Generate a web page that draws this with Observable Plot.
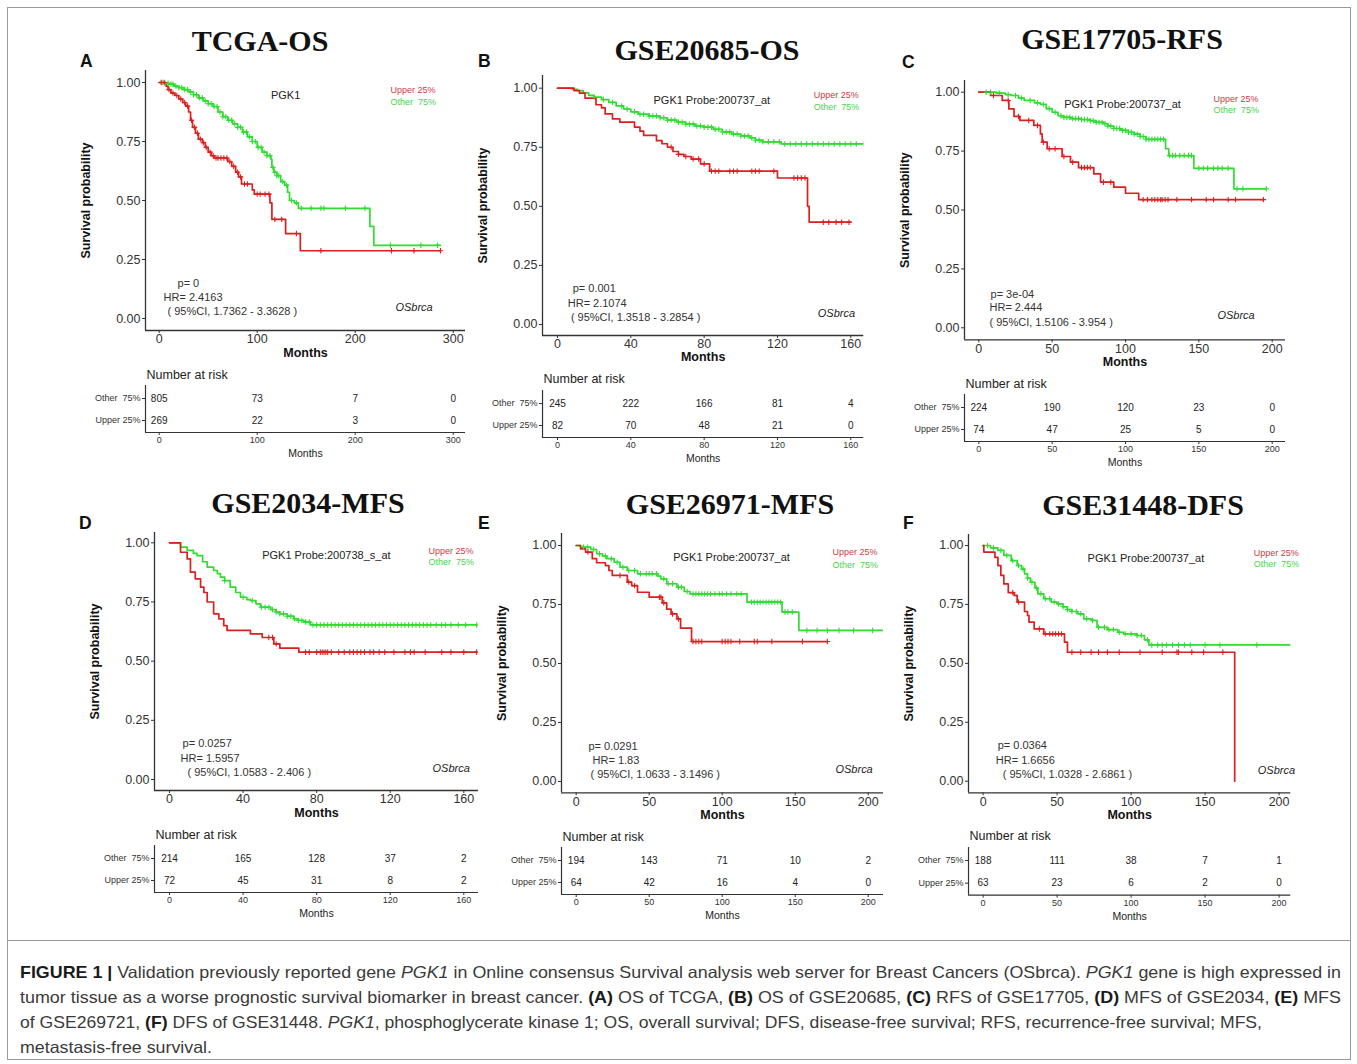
<!DOCTYPE html>
<html><head><meta charset="utf-8">
<script src="https://cdn.jsdelivr.net/npm/d3@7"></script>
<script src="https://cdn.jsdelivr.net/npm/@observablehq/plot@0.6"></script>
<style>
body{margin:0;background:#fff;}
#fig{position:relative;width:1357px;height:1064px;background:#fff;overflow:hidden;}
</style></head><body><div id="fig"></div>
<script>
// ---------------- DATA ----------------
const groups = ["Other  75%", "Upper 25%"];
const panelLetters = ["A","B","C","D","E","F"];
const panelTitles = ["TCGA-OS","GSE20685-OS","GSE17705-RFS","GSE2034-MFS","GSE26971-MFS","GSE31448-DFS"];
const probeLabels = ["PGK1","PGK1 Probe:200737_at","PGK1 Probe:200737_at","PGK1 Probe:200738_s_at","PGK1 Probe:200737_at","PGK1 Probe:200737_at"];
const pValues = ["p= 0","p= 0.001","p= 3e-04","p= 0.0257","p= 0.0291","p= 0.0364"];
const hrValues = ["HR= 2.4163","HR= 2.1074","HR= 2.444","HR= 1.5957","HR= 1.83","HR= 1.6656"];
const ciValues = ["( 95%CI, 1.7362 - 3.3628 )","( 95%CI, 1.3518 - 3.2854 )","( 95%CI, 1.5106 - 3.954 )","( 95%CI, 1.0583 - 2.406 )","( 95%CI, 1.0633 - 3.1496 )","( 95%CI, 1.0328 - 2.6861 )"];
const sourceLabel = "OSbrca";
const yTicks = [0, 0.25, 0.5, 0.75, 1];
const xTicks = [[0,100,200,300],[0,40,80,120,160],[0,50,100,150,200],[0,40,80,120,160],[0,50,100,150,200],[0,50,100,150,200]];

// Number at risk (rows: Other 75%, Upper 25%) at the x ticks
const riskOther = [[805,73,7,0],[245,222,166,81,4],[224,190,120,23,0],[214,165,128,37,2],[194,143,71,10,2],[188,111,38,7,1]];
const riskUpper = [[269,22,3,0],[82,70,48,21,0],[74,47,25,5,0],[72,45,31,8,2],[64,42,16,4,0],[63,23,6,2,0]];

// Kaplan-Meier steps [month, survival] (Other 75% = green, Upper 25% = red)
const otherStepsA = [[0,1],[5,0.997],[10,0.993],[15,0.985],[20,0.978],[25,0.97],[30,0.96],[35,0.948],[40,0.935],[45,0.922],[50,0.91],[55,0.898],[60,0.875],[65,0.855],[70,0.84],[75,0.825],[80,0.81],[85,0.79],[90,0.77],[95,0.75],[100,0.725],[105,0.705],[110,0.69],[114,0.675],[115,0.64],[117,0.62],[120,0.605],[124,0.58],[128,0.565],[131,0.535],[133,0.5],[138,0.49],[142,0.467],[215,0.39],[219,0.31],[287,0.31]];
const upperStepsA = [[0,1],[7,0.985],[9,0.97],[12,0.955],[16,0.945],[20,0.93],[24,0.915],[27,0.9],[30,0.875],[32,0.84],[34,0.81],[37,0.785],[40,0.76],[44,0.745],[47,0.725],[50,0.705],[53,0.69],[56,0.68],[70,0.665],[74,0.645],[78,0.62],[81,0.6],[84,0.57],[95,0.545],[97,0.527],[113,0.49],[115,0.42],[129,0.36],[144,0.287],[287,0.287]];
const otherCensorA = [3,6,9,12,14,17,20,23,26,29,32,35,38,41,44,47,50,53,56,59,62,65,68,71,74,77,80,83,86,89,92,95,98,101,104,107,110,113,116,118,120,122,126,130,135,140,145,155,165,168,190,210,236,267,284];
const upperCensorA = [2,5,10,14,18,22,26,29,33,36,39,42,45,48,52,55,58,60,63,66,69,72,76,80,83,87,90,100,103,108,112,118,125,140,165,237,260,287];

const otherStepsB = [[0,1],[8,0.995],[11,0.99],[14,0.98],[17,0.97],[20,0.962],[24,0.952],[28,0.94],[32,0.925],[36,0.912],[40,0.9],[44,0.89],[50,0.882],[56,0.875],[60,0.865],[65,0.856],[70,0.848],[75,0.84],[80,0.835],[85,0.826],[90,0.815],[95,0.806],[100,0.798],[105,0.79],[108,0.78],[112,0.773],[122,0.764],[167,0.764]];
const upperStepsB = [[0,1],[9,0.99],[12,0.979],[15,0.958],[21,0.93],[24,0.917],[26,0.891],[30,0.87],[34,0.856],[42,0.835],[45,0.818],[47,0.8],[54,0.778],[57,0.765],[60,0.75],[63,0.732],[66,0.72],[69,0.711],[73,0.7],[78,0.68],[83,0.649],[120,0.62],[136.4,0.5],[137.3,0.433],[160,0.433]];
const otherCensorB = [20,25,30,35,38,42,45,47,50,52,54,56,58,60,62,64,66,68,70,72,74,76,78,80,82,84,86,88,90,92,94,96,98,100,102,104,106,108,110,112,115,118,121,124,127,130,133,136,139,142,145,148,151,154,157,160,163,167];
const upperCensorB = [62,66,70,74,77,80,84,86,88,94,96,98,106,108,110,118,129,131,133,135,145,148,152,155,159];

const otherStepsC = [[0,1],[12,0.996],[18,0.99],[22,0.986],[27,0.975],[31,0.965],[38,0.955],[42,0.948],[46,0.93],[50,0.915],[54,0.9],[58,0.893],[63,0.888],[70,0.884],[76,0.879],[80,0.872],[85,0.866],[88,0.856],[92,0.846],[97,0.838],[102,0.83],[106,0.822],[110,0.812],[114,0.8],[127.3,0.76],[129.5,0.731],[146.6,0.677],[173.9,0.59],[196,0.59]];
const upperStepsC = [[0,1],[8,0.986],[16,0.965],[20.5,0.929],[24,0.897],[28,0.88],[37.5,0.859],[42,0.823],[43.2,0.788],[46.6,0.76],[56.8,0.727],[62.5,0.703],[68,0.68],[78.4,0.653],[83,0.618],[92,0.597],[100,0.571],[109,0.544],[194,0.544]];
const otherCensorC = [5,8,14,20,25,29,35,40,44,48,52,56,58,60,62,64,66,68,70,72,74,76,78,80,82,84,86,88,90,92,94,96,98,100,102,104,106,108,110,112,114,116,118,120,122,124,126,130,132,134,137,140,143,145,150,153,156,160,163,166,170,176,180,196];
const upperCensorC = [10,20,27,34,40,44,48,52,58,64,70,72,74,76,85,90,112,115,118,120,122,124,125,127,129,135,145,155,160,170,175,194];

const otherStepsD = [[0,1],[6,0.982],[9.6,0.968],[13,0.955],[15,0.946],[18,0.92],[20.5,0.897],[24,0.883],[26,0.87],[27.7,0.855],[30,0.84],[33,0.813],[36,0.79],[38.6,0.77],[42,0.76],[44,0.756],[47,0.742],[49.5,0.728],[55,0.718],[58,0.708],[60,0.7],[64,0.69],[67.6,0.679],[70,0.672],[73,0.665],[76.6,0.653],[167,0.653]];
const upperStepsD = [[0,1],[6,0.96],[9.6,0.932],[11.4,0.876],[14,0.848],[16.9,0.813],[18.7,0.79],[20.5,0.75],[24,0.7],[26.8,0.679],[29.5,0.65],[31.3,0.63],[44,0.615],[50.4,0.6],[56.7,0.573],[60,0.555],[70.3,0.538],[167,0.538]];
const otherCensorD = [30,40,45,50,52,54,56,58,60,62,64,66,68,70,72,74,76,78,80,82,84,86,88,90,92,94,96,98,100,102,104,106,108,110,112,114,116,118,120,122,124,126,128,130,132,134,136,138,140,142,145,148,150,153,157,161,167];
const upperCensorD = [54,56,58,74,76,80,82,83,84,85,86,88,92,95,98,100,102,104,106,109,111,114,117,122,128,131,133,139,148,153,160,167];

const otherStepsE = [[0,1],[3,0.993],[10,0.983],[14,0.965],[18,0.955],[21,0.944],[26,0.929],[30,0.908],[35,0.894],[42,0.88],[56,0.87],[58,0.859],[62,0.838],[69,0.823],[74,0.805],[78,0.795],[117,0.76],[141,0.718],[152.5,0.64],[210,0.64]];
const upperStepsE = [[0,1],[3,0.986],[6.4,0.972],[11,0.944],[14,0.927],[20,0.915],[22.4,0.894],[24.7,0.873],[35,0.845],[38,0.83],[42,0.802],[50,0.781],[59,0.757],[62,0.73],[65,0.71],[69,0.689],[71.5,0.65],[79,0.593],[172,0.593]];
const otherCensorE = [5,8,12,16,20,24,28,32,36,40,44,48,50,52,55,60,63,66,70,72,76,80,82,84,86,88,90,92,95,98,100,103,106,110,113,120,122,124,126,128,130,132,134,136,138,140,143,145,148,158,165,172,180,190,203];
const upperCensorE = [8,30,36,40,57,58,60,66,70,80,82,84,86,100,102,104,106,112,122,124,134,155,172];

const otherStepsF = [[0,1],[5,0.99],[10,0.979],[14,0.958],[19,0.936],[23,0.915],[26,0.9],[28,0.88],[30,0.862],[32,0.844],[35,0.82],[37,0.795],[41,0.774],[46,0.76],[50,0.752],[54,0.74],[57,0.728],[60,0.72],[64,0.71],[68,0.689],[73,0.682],[77,0.653],[84,0.643],[91,0.632],[95,0.625],[104,0.618],[109,0.6],[112,0.578],[215,0.578]];
const upperStepsF = [[0,1],[0.5,0.972],[8,0.95],[10,0.915],[12,0.873],[14,0.837],[17,0.8],[21,0.788],[23,0.76],[28,0.72],[30,0.703],[31,0.675],[34.5,0.646],[41,0.625],[55,0.59],[57,0.547],[170,0],[170,0]];
const otherCensorF = [3,7,12,16,20,24,27,30,33,36,39,42,45,48,51,54,57,60,63,66,70,74,78,82,85,88,92,96,100,104,107,111,114,118,121,124,128,132,136,140,150,160,185];
const upperCensorF = [20,24,38,42,45,47,49,51,53,60,66,73,78,84,92,106,121,131,132,141,149,162];

const otherSteps = [otherStepsA, otherStepsB, otherStepsC, otherStepsD, otherStepsE, otherStepsF];
const upperSteps = [upperStepsA, upperStepsB, upperStepsC, upperStepsD, upperStepsE, upperStepsF];
const otherCensor = [otherCensorA, otherCensorB, otherCensorC, otherCensorD, otherCensorE, otherCensorF];
const upperCensor = [upperCensorA, upperCensorB, upperCensorC, upperCensorD, upperCensorE, upperCensorF];

// ---------------- LAYOUT (pixels / annotation anchors) ----------------
const layout = [
 {km:{x0:145,x1:465,y0:70,y1:330,xr:[0,158.7,300,452.7],yr:[1,82,0,318]}, tbl:{o:398,u:420}, title:[260,51], letter:[80,67],
  ann:{p:[18.7,0.148],hr:[4.4,0.089],ci:[8.5,0.03],probe:[129,0.945],leg:[236,0.966,0.919],os:[241,0.047]}},
 {km:{x0:541.7,x1:863,y0:75,y1:335,xr:[0,556.7,160,850],yr:[1,87.7,0,324]}, tbl:{o:403,u:425}, title:[707,60], letter:[478,67],
  ann:{p:[8.3,0.152],hr:[5.6,0.089],ci:[7.3,0.03],probe:[84.2,0.948],leg:[139.8,0.969,0.918],os:[142,0.047]}},
 {km:{x0:964,x1:1285,y0:80,y1:339.3,xr:[0,978.3,200,1271.7],yr:[1,91.7,0,327.3]}, tbl:{o:407,u:429}, title:[1122,49], letter:[902,68],
  ann:{p:[8,0.141],hr:[7.3,0.086],ci:[7.3,0.024],probe:[98,0.948],leg:[160,0.969,0.922],os:[162.7,0.052]}},
 {km:{x0:154,x1:478,y0:532,y1:790,xr:[0,169,160,463.3],yr:[1,542.3,0,779]}, tbl:{o:858,u:880}, title:[308,513], letter:[79,529], clip:true,
  ann:{p:[7.1,0.152],hr:[6.0,0.089],ci:[9.8,0.03],probe:[85.3,0.946],leg:[140.8,0.967,0.917],os:[143,0.046]}},
 {km:{x0:561,x1:883,y0:533,y1:792.3,xr:[0,575.7,200,867.7],yr:[1,545,0,781]}, tbl:{o:860,u:882}, title:[730,514], letter:[478,529],
  ann:{p:[8.4,0.148],hr:[11.2,0.089],ci:[9.8,0.03],probe:[106.4,0.949],leg:[175.5,0.97,0.919],os:[177.6,0.051]}},
 {km:{x0:967.7,x1:1290,y0:534,y1:792.3,xr:[0,982.3,200,1278.3],yr:[1,545,0,780.7]}, tbl:{o:860.3,u:883}, title:[1143,515], letter:[903,529], clip:true,
  ann:{p:[9.9,0.151],hr:[8.6,0.088],ci:[13.3,0.028],probe:[110,0.945],leg:[182.9,0.966,0.919],os:[185.6,0.047]}}
];

const SANS = "'Liberation Sans', Arial, Helvetica, sans-serif";
const RED = "#dc1f1f", GREEN = "#30dc30";
const RED_TXT = "#cc3a44", GREEN_TXT = "#47d447";
const INK = "#333";
const fig = document.getElementById("fig");

function linDomain(refs, p0, p1) {
  const [a, pa, b, pb] = refs; const k = (pb - pa) / (b - a);
  return [a + (p0 - pa) / k, a + (p1 - pa) / k];
}
function survAt(steps, t) { let s = 1; for (const [ti, si] of steps) if (ti <= t) s = si; return s; }
function place(svg, left, top) {
  svg.style.position = "absolute"; svg.style.left = left + "px"; svg.style.top = top + "px";
  svg.style.background = "transparent"; svg.style.maxWidth = "none";
  svg.style.overflow = "visible";
  fig.appendChild(svg);
}

// ---------------- decoration: frame, titles, letters, caption ----------------
const deco = d3.select(fig).append("svg").attr("width", 1357).attr("height", 1064)
  .style("position", "absolute").style("left", "0px").style("top", "0px");
deco.append("rect").attr("x", 7.5).attr("y", 7.5).attr("width", 1343).attr("height", 1052)
  .attr("fill", "none").attr("stroke", "#9a9a9a").attr("stroke-width", 1);
deco.append("line").attr("x1", 7.5).attr("x2", 1350.5).attr("y1", 940.5).attr("y2", 940.5)
  .attr("stroke", "#9a9a9a").attr("stroke-width", 1);
layout.forEach((L, i) => {
  deco.append("text").attr("x", L.title[0]).attr("y", L.title[1]).attr("text-anchor", "middle")
    .attr("font-family", "'Liberation Serif', 'Times New Roman', serif").attr("font-weight", "bold")
    .attr("font-size", 30).attr("fill", "#111").text(panelTitles[i]);
  deco.append("text").attr("x", L.letter[0]).attr("y", L.letter[1])
    .attr("font-family", SANS).attr("font-weight", "bold").attr("font-size", 17.5).attr("fill", "#111")
    .text(panelLetters[i]);
});
const captionLines = [
  {len: 1321, parts: [["b","FIGURE 1 |"],["n"," Validation previously reported gene "],["i","PGK1"],["n"," in Online consensus Survival analysis web server for Breast Cancers (OSbrca). "],["i","PGK1"],["n"," gene is high expressed in"]]},
  {len: 1321, parts: [["n","tumor tissue as a worse prognostic survival biomarker in breast cancer. "],["b","(A)"],["n"," OS of TCGA, "],["b","(B)"],["n"," OS of GSE20685, "],["b","(C)"],["n"," RFS of GSE17705, "],["b","(D)"],["n"," MFS of GSE2034, "],["b","(E)"],["n"," MFS"]]},
  {len: 1242, parts: [["n","of GSE269721, "],["b","(F)"],["n"," DFS of GSE31448. "],["i","PGK1"],["n",", phosphoglycerate kinase 1; OS, overall survival; DFS, disease-free survival; RFS, recurrence-free survival; MFS,"]]},
  {len: 192, parts: [["n","metastasis-free survival."]]}
];
captionLines.forEach((ln, k) => {
  const t = deco.append("text").attr("x", 20).attr("y", 978 + 25 * k)
    .attr("font-family", "'Liberation Sans Narrow', 'Arial Narrow', 'Liberation Sans', Arial, sans-serif")
    .attr("font-size", 16.5).attr("fill", "#3a3a3a").attr("textLength", ln.len).attr("lengthAdjust", "spacingAndGlyphs")
    .style("white-space", "pre");
  ln.parts.forEach(([kind, str]) => {
    const s = t.append("tspan").text(str);
    if (kind === "b") s.attr("font-weight", "bold").attr("fill", "#1a1a1a");
    if (kind === "i") s.attr("font-style", "italic");
  });
});

// ---------------- KM panels ----------------
function drawKM(i) {
  const L = layout[i], k = L.km, a = L.ann;
  const left = k.x0 - 75, top = k.y0 - 6;
  const right = L.clip ? k.x1 : k.x1 + 6;
  const W = right - left, H = (k.y1 + 36) - top;
  const xd = linDomain(k.xr, k.x0, k.x1);
  const yd = linDomain(k.yr, k.y1, k.y0);
  const txt = (str, pos, opts) => Plot.text([str], {x: pos[0], y: pos[1], text: d => d, textAnchor: "start", fontSize: 11, fill: INK, ...opts});
  const svg = Plot.plot({
    width: W, height: H, marginLeft: 75, marginTop: 6, marginRight: right - k.x1, marginBottom: 36,
    x: {domain: xd}, y: {domain: yd},
    style: {fontFamily: SANS, background: "transparent"},
    marks: [
      Plot.ruleX([xd[0]], {stroke: INK, strokeWidth: 1.3}),
      Plot.ruleY([yd[0]], {stroke: INK, strokeWidth: 1.3}),
      Plot.axisX({ticks: xTicks[i], tickSize: 3, tickPadding: 1, fontSize: 12.5, color: INK, label: null}),
      Plot.axisY({ticks: yTicks, tickFormat: d3.format(".2f"), tickSize: 3, tickPadding: 2, fontSize: 12.5, color: INK, label: null}),
      Plot.text(["Months"], {frameAnchor: "bottom", text: d => d, dy: 22, lineAnchor: "middle", textAnchor: "middle", fontWeight: "bold", fontSize: 12.5, fill: "#111"}),
      Plot.text(["Survival probability"], {frameAnchor: "left", text: d => d, dx: -60, rotate: -90, textAnchor: "middle", lineAnchor: "middle", fontWeight: "bold", fontSize: 12.5, fill: "#111"}),
      Plot.line(otherSteps[i], {x: d => d[0], y: d => d[1], curve: "step-after", stroke: GREEN, strokeWidth: 1.7, clip: true}),
      Plot.line(upperSteps[i], {x: d => d[0], y: d => d[1], curve: "step-after", stroke: RED, strokeWidth: 1.7, clip: true}),
      Plot.dot(otherCensor[i], {x: d => d, y: d => survAt(otherSteps[i], d), symbol: "plus", r: 1.9, stroke: GREEN, strokeWidth: 1.1, fill: "none", clip: true}),
      Plot.dot(upperCensor[i], {x: d => d, y: d => survAt(upperSteps[i], d), symbol: "plus", r: 1.9, stroke: RED, strokeWidth: 1.1, fill: "none", clip: true}),
      txt(probeLabels[i], a.probe, {textAnchor: "middle", fill: "#222"}),
      txt(groups[1], [a.leg[0], a.leg[1]], {fontSize: 9, fill: RED_TXT}),
      txt(groups[0], [a.leg[0], a.leg[2]], {fontSize: 9, fill: GREEN_TXT}),
      txt(pValues[i], a.p, {}),
      txt(hrValues[i], a.hr, {}),
      txt(ciValues[i], a.ci, {}),
      txt(sourceLabel, a.os, {fontStyle: "italic", fill: "#222"})
    ]
  });
  place(svg, left, top);
}

// ---------------- risk tables ----------------
function drawTable(i) {
  const L = layout[i], k = L.km, t = L.tbl;
  const fTop = t.o - 13, fBot = t.u + 12;
  const left = k.x0 - 75, top = fTop - 20;
  const right = L.clip ? k.x1 : k.x1 + 6;
  const W = right - left, H = (fBot + 32) - top;
  const xd = linDomain(k.xr, k.x0, k.x1);
  const yd = linDomain([1, t.o, 0, t.u], fBot, fTop);
  const rows = [];
  xTicks[i].forEach((tm, j) => {
    rows.push({t: tm, n: riskOther[i][j], g: 1});
    rows.push({t: tm, n: riskUpper[i][j], g: 0});
  });
  const svg = Plot.plot({
    width: W, height: H, marginLeft: 75, marginTop: 20, marginRight: right - k.x1, marginBottom: 32,
    x: {domain: xd}, y: {domain: yd},
    style: {fontFamily: SANS, background: "transparent"},
    marks: [
      Plot.ruleX([xd[0]], {stroke: INK, strokeWidth: 1.2}),
      Plot.ruleY([yd[0]], {stroke: INK, strokeWidth: 1.2}),
      Plot.axisX({ticks: xTicks[i], tickSize: 3, tickPadding: 1, fontSize: 9, color: INK, label: null}),
      Plot.axisY({ticks: [1, 0], tickFormat: d => groups[1 - d], tickSize: 3, tickPadding: 2, fontSize: 9, color: INK, label: null}),
      Plot.text(rows, {x: "t", y: "g", text: "n", fontSize: 10, fill: "#222"}),
      Plot.text(["Number at risk"], {frameAnchor: "top-left", text: d => d, dx: 1, dy: -11, textAnchor: "start", lineAnchor: "middle", fontSize: 12.5, fill: "#222"}),
      Plot.text(["Months"], {frameAnchor: "bottom", text: d => d, dy: 21, textAnchor: "middle", lineAnchor: "middle", fontSize: 10.5, fill: "#222"})
    ]
  });
  place(svg, left, top);
}

layout.forEach((L, i) => { drawKM(i); drawTable(i); });
</script></body></html>
